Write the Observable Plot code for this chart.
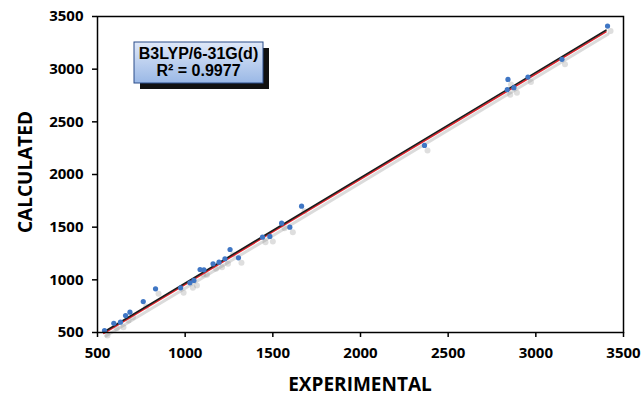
<!DOCTYPE html>
<html><head><meta charset="utf-8">
<script src="https://cdn.jsdelivr.net/npm/d3@7"></script>
<script src="https://cdn.jsdelivr.net/npm/@observablehq/plot@0.6"></script>
<style>
body{margin:0;background:#fff;}
#chart{position:relative;width:643px;height:399px;}
</style></head>
<body><div id="chart"></div>
<script>
// Data
const experimental = [540,593,631,660,685,761,831,974,1027,1050,1085,1107,1159,1193,1227,1256,1304,1441,1483,1550,1597,1664,2365,2837,2841,2875,2955,3149,3409];
const calculated   = [519,588,598,661,693,794,915,924,972,994,1098,1095,1152,1168,1200,1288,1209,1405,1412,1538,1500,1699,2276,2805,2903,2824,2925,3093,3409];
const fitX = [536, 3400];
const fitBlackY = [505, 3370];
const fitRedY = [492, 3354];
const xTicks = [500,1000,1500,2000,2500,3000,3500];
const yTicks = [500,1000,1500,2000,2500,3000,3500];
const boxLines = ["B3LYP/6-31G(d)", "R² = 0.9977"];

const pts = experimental.map((x,i)=>({x, y: calculated[i]}));
const black = fitX.map((x,i)=>({x, y: fitBlackY[i]}));
const red = fitX.map((x,i)=>({x, y: fitRedY[i]}));

const plot = Plot.plot({
  width: 643, height: 399,
  marginLeft: 97, marginRight: 20, marginTop: 16, marginBottom: 67,
  style: {fontFamily: "'Open Sans', sans-serif", fontWeight: "bold", fontSize: "15px", color: "#000", background: "#fff", overflow: "visible"},
  x: {domain: [500,3500], label: null},
  y: {domain: [500,3500], label: null},
  marks: [
    Plot.line(black, {x:"x", y:"y", stroke:"#999", strokeWidth:3, strokeOpacity:0.35, dx:2, dy:4}),
    Plot.dot(pts, {x:"x", y:"y", r:3, fill:"#888", fillOpacity:0.28, dx:3, dy:5}),
    Plot.line(red, {x:"x", y:"y", stroke:"#e0202a", strokeWidth:1.6}),
    Plot.line(black, {x:"x", y:"y", stroke:"#1a1a1a", strokeWidth:1.6}),
    Plot.dot(pts, {x:"x", y:"y", r:2.6, fill:"#3f76c4"}),
    Plot.frame({stroke:"#000", strokeWidth:1.5}),
    Plot.axisX({ticks: xTicks, tickSize:5, tickPadding:10, tickFormat: d=>String(d), fontSize:15, fontWeight:"bold", strokeWidth:1.5, label:null}),
    Plot.axisY({ticks: yTicks, tickSize:5, tickPadding:9, tickFormat: d=>String(d), fontSize:15, fontWeight:"bold", strokeWidth:1.5, label:null})
  ]
});

const svg = d3.select(plot);

// Annotation box
const defs = svg.append("defs");
const grad = defs.append("linearGradient").attr("id","boxgrad").attr("x1",0).attr("y1",0).attr("x2",0).attr("y2",1);
grad.append("stop").attr("offset","0%").attr("stop-color","#dfe8f8");
grad.append("stop").attr("offset","100%").attr("stop-color","#9ab8e6");
const g = svg.append("g");
g.append("rect").attr("x",140).attr("y",48).attr("width",129).attr("height",41).attr("fill","#111");
g.append("rect").attr("x",134).attr("y",42).attr("width",129).attr("height",41).attr("fill","url(#boxgrad)").attr("stroke","#2b4c8a").attr("stroke-width",1);
g.selectAll("text.box").data(boxLines).join("text")
  .attr("x",198.5).attr("y",(d,i)=>59+i*17)
  .attr("text-anchor","middle")
  .attr("font-family","'Liberation Sans Narrow','Liberation Sans',Arial,sans-serif")
  .attr("font-weight","bold").attr("font-size","16px").attr("fill","#000")
  .text(d=>d);

// Axis titles
svg.append("text").attr("x",360).attr("y",391).attr("text-anchor","middle")
  .attr("font-family","'Open Sans',sans-serif").attr("font-weight","bold").attr("font-size","19px")
  .text("EXPERIMENTAL");
svg.append("text").attr("transform","translate(32,172) rotate(-90)").attr("text-anchor","middle")
  .attr("font-family","'Open Sans',sans-serif").attr("font-weight","bold").attr("font-size","19px")
  .text("CALCULATED");

document.getElementById("chart").appendChild(plot);
</script></body></html>
